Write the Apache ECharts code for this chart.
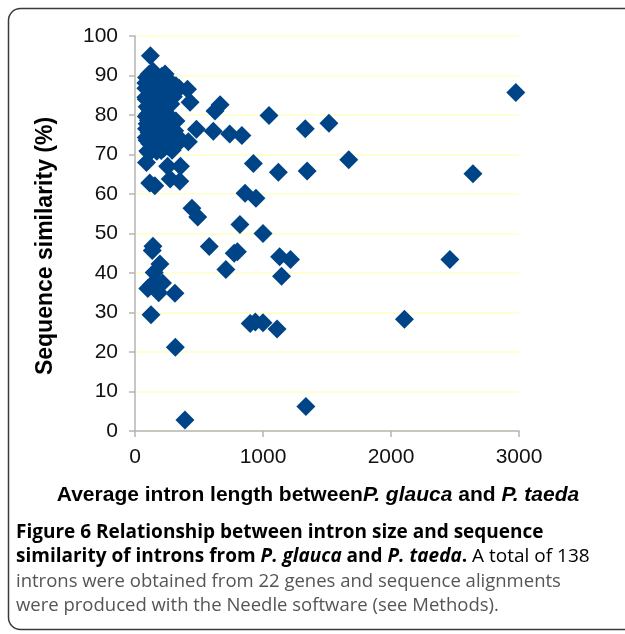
<!DOCTYPE html>
<html>
<head>
<meta charset="utf-8">
<script src="https://cdn.jsdelivr.net/npm/echarts@6/dist/echarts.min.js"></script>
<style>html,body{margin:0;padding:0;background:#fff;}#c{width:625px;height:634px;}</style>
</head>
<body>
<div id="c"></div>
<script>
// Average intron length (x) and sequence similarity % (y)
const introns_x = [
  120, 2975, 1330, 1515, 1670, 1345, 1120, 2640, 1047, 835,
  925, 860, 945, 820, 1000, 800, 1130, 1215, 1145, 2460,
  2105, 1110, 1335, 900, 940, 1000, 710, 580, 445, 490,
  390, 315, 312, 125, 140, 135, 195, 150, 165, 100,
  185, 215, 130, 625, 665, 740, 612, 480, 430, 410,
  115, 155, 350, 275, 355, 255, 90, 290, 417, 85, 775,
  90, 110, 135, 160, 185, 210, 235, 260, 290, 320, 345,
  85, 115, 140, 170, 200, 240, 275, 300,
  88, 105, 125, 150, 185, 225, 260,
  95, 115, 140, 170, 205, 250, 285,
  88, 105, 130, 160, 195, 230, 270, 310, 330,
  90, 110, 140, 175, 210, 245, 300, 340,
  95, 115, 150, 190, 225, 260,
  100, 135, 170, 205,
  85, 120, 155, 215, 100, 185, 125, 155, 235, 280, 320, 88, 200, 140, 250, 95, 110
];
const introns_y = [
  95.0, 85.7, 76.5, 77.9, 68.7, 65.8, 65.5, 65.1, 79.9, 74.8,
  67.7, 60.2, 58.9, 52.3, 50.0, 45.4, 44.1, 43.4, 39.2, 43.4,
  28.3, 25.8, 6.2, 27.2, 27.6, 27.4, 40.9, 46.7, 56.4, 54.2,
  2.8, 21.2, 34.9, 29.4, 46.8, 45.7, 42.3, 40.1, 37.8, 36.1,
  35.0, 37.5, 37.0, 81.0, 82.6, 75.2, 75.9, 76.4, 83.2, 86.5,
  62.8, 62.1, 63.2, 63.8, 67.0, 67.0, 68.0, 71.1, 73.2, 84.5, 45.0,
  89.5, 90.3, 88.7, 89.2, 88.5, 89.8, 90.4, 88.9, 87.6, 87.4, 86.8,
  86.8, 87.1, 86.2, 86.9, 86.3, 86.0, 85.5, 84.6,
  84.0, 84.9, 83.6, 84.3, 83.8, 83.2, 82.4,
  82.1, 81.4, 80.8, 81.7, 80.6, 79.8, 79.2,
  79.6, 78.7, 79.0, 78.2, 77.6, 77.9, 76.8, 76.0, 74.6,
  76.5, 75.6, 76.9, 75.2, 74.8, 74.1, 73.9, 73.0,
  73.6, 72.8, 73.1, 72.4, 71.6, 72.0,
  70.9, 71.2, 70.8, 71.0,
  88.1, 85.5, 82.5, 84.9, 80.2, 79.5, 77.2, 75.0, 81.5, 82.8, 78.5, 74.3, 88.0, 91.1, 84.5, 77.8, 70.5
];
const xTicks = [0, 1000, 2000, 3000];
const yTicks = [0, 10, 20, 30, 40, 50, 60, 70, 80, 90, 100];

const points = introns_x.map((x, i) => [x, introns_y[i]]);

const chart = echarts.init(document.getElementById('c'), null, {renderer: 'canvas'});
const tickFont = 'Liberation Sans, Arial, sans-serif';
const capFont = '"Open Sans", "Noto Sans", sans-serif';
chart.setOption({
  animation: false,
  backgroundColor: '#fff',
  grid: {left: 135, right: 106, top: 36, bottom: 203, containLabel: false},
  xAxis: {
    type: 'value', min: xTicks[0], max: xTicks[xTicks.length - 1], interval: 1000,
    axisLine: {show: true, lineStyle: {color: '#b5b5b5', width: 1.5}},
    axisTick: {show: true, length: 6, lineStyle: {color: '#b5b5b5', width: 1.5}},
    axisLabel: {fontSize: 21, color: '#111', fontFamily: tickFont, margin: 16,
      formatter: v => String(v)},
    splitLine: {show: false}
  },
  yAxis: {
    type: 'value', min: yTicks[0], max: yTicks[yTicks.length - 1], interval: 10,
    axisLine: {show: true, lineStyle: {color: '#b5b5b5', width: 1.5}},
    axisTick: {show: true, length: 6, lineStyle: {color: '#b5b5b5', width: 1.5}},
    axisLabel: {fontSize: 21, color: '#111', fontFamily: tickFont, margin: 17,
      formatter: v => String(v)},
    splitLine: {show: true, lineStyle: {color: '#ffffc8', width: 1.5}}
  },
  series: [{
    type: 'scatter',
    data: points,
    symbol: 'diamond',
    symbolSize: 19,
    itemStyle: {color: '#004488', opacity: 1}
  }],
  graphic: [
    {type: 'rect', z: -1, shape: {x: 8.5, y: 8.5, width: 660, height: 621, r: 12},
     style: {fill: 'none', stroke: '#3a3a3a', lineWidth: 1.5}},
    {type: 'text', x: 46, y: 246, rotation: Math.PI / 2,
     style: {text: 'Sequence similarity (%)', font: 'bold 23px Liberation Sans, Arial, sans-serif',
       fill: '#000', align: 'center', verticalAlign: 'middle'}},
    {type: 'text', x: 318, y: 495,
     style: {text: '{b|Average intron length between}{bi|P. glauca}{b| and }{bi|P. taeda}',
       align: 'center', verticalAlign: 'middle',
       rich: {
         b: {fontFamily: tickFont, fontWeight: 'bold', fontSize: 21, color: '#000'},
         bi: {fontFamily: tickFont, fontWeight: 'bold', fontStyle: 'italic', fontSize: 21, color: '#000'}
       }}},
    {type: 'text', x: 16, y: 533,
     style: {text: '{b|Figure 6 Relationship between intron size and sequence}',
       align: 'left', verticalAlign: 'middle',
       rich: {b: {fontFamily: capFont, fontWeight: 'bold', fontSize: 19, color: '#222'}}}},
    {type: 'text', x: 16, y: 557,
     style: {text: '{b|similarity of introns from }{bi|P. glauca}{b| and }{bi|P. taeda}{b|.}{n| A total of 138}',
       align: 'left', verticalAlign: 'middle',
       rich: {
         b: {fontFamily: capFont, fontWeight: 'bold', fontSize: 19, color: '#222'},
         bi: {fontFamily: capFont, fontWeight: 'bold', fontStyle: 'italic', fontSize: 19, color: '#222'},
         n: {fontFamily: capFont, fontSize: 19, color: '#555'}
       }}},
    {type: 'text', x: 16, y: 582,
     style: {text: 'introns were obtained from 22 genes and sequence alignments',
       font: '18.5px "Open Sans", "Noto Sans", sans-serif', fill: '#555', align: 'left', verticalAlign: 'middle'}},
    {type: 'text', x: 16, y: 606,
     style: {text: 'were produced with the Needle software (see Methods).',
       font: '18.5px "Open Sans", "Noto Sans", sans-serif', fill: '#555', align: 'left', verticalAlign: 'middle'}}
  ]
});
</script>
</body>
</html>
